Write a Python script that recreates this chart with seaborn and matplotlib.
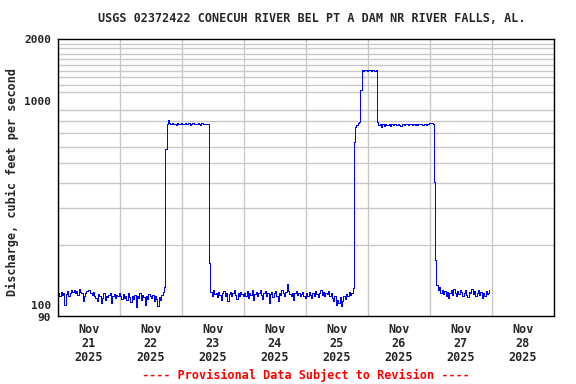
import matplotlib
matplotlib.use("Agg")
import matplotlib.pyplot as plt
import matplotlib.dates as mdates
import matplotlib.ticker as mticker
import matplotlib.transforms as mtransforms
import numpy as np
import pandas as pd
import seaborn as sns

# 30-minute discharge readings (cfs), one list per day
day_starts = ["2025-11-21", "2025-11-22", "2025-11-23", "2025-11-24",
              "2025-11-25", "2025-11-26", "2025-11-27"]

q_nov21 = [116, 112, 118, 114, 117, 102, 115, 119, 113, 117, 121, 118, 120, 116, 119, 114,
           122, 118, 116, 107, 113, 117, 119, 121, 120, 116, 114, 118, 112, 110, 106, 115,
           112, 104, 110, 116, 108, 113, 111, 114, 117, 104, 112, 115, 110, 114, 113, 116]
q_nov22 = [112, 109, 115, 110, 113, 108, 116, 111, 105, 113, 109, 114, 100, 112, 110, 116,
           108, 114, 111, 102, 113, 109, 115, 112, 110, 114, 107, 113, 109, 101, 111, 108,
           114, 118, 125, 584, 775, 808, 780, 772, 785, 768, 776, 762, 780, 774, 770, 778]
q_nov23 = [776, 770, 782, 768, 774, 779, 766, 772, 781, 770, 775, 768, 777, 773, 765, 779,
           771, 776, 769, 774, 770, 163, 118, 112, 120, 115, 117, 111, 118, 114, 108, 116,
           119, 113, 117, 106, 115, 118, 112, 116, 120, 114, 109, 117, 113, 118, 115, 112]
q_nov24 = [116, 113, 119, 110, 117, 114, 120, 108, 115, 118, 112, 117, 121, 114, 109, 116,
           119, 113, 117, 104, 115, 118, 111, 116, 119, 113, 106, 117, 114, 120, 116, 112,
           118, 129, 119, 115, 113, 117, 108, 116, 119, 114, 117, 112, 115, 118, 113, 110]
q_nov25 = [116, 112, 118, 114, 110, 117, 113, 119, 115, 111, 116, 120, 114, 118, 112, 117,
           115, 119, 113, 116, 110, 106, 112, 102, 108, 104, 111, 101, 107, 113, 109, 115,
           112, 118, 114, 117, 123, 633, 743, 762, 785, 790, 1134, 1415, 1405, 1420, 1410, 1400]
q_nov26 = [1412, 1418, 1390, 1408, 1415, 1402, 1410, 793, 762, 775, 750, 768, 758, 772, 765, 760,
           776, 755, 770, 763, 768, 774, 760, 771, 766, 759, 772, 768, 764, 775, 770, 762,
           769, 773, 761, 770, 767, 774, 765, 771, 768, 776, 763, 770, 772, 766, 774, 779]
q_nov27 = [778, 782, 774, 404, 168, 127, 120, 124, 117, 121, 115, 119, 113, 118, 110, 116,
           120, 114, 122, 117, 112, 119, 115, 121, 118, 113, 117, 120, 114, 111, 118, 116,
           122, 115, 119, 112, 117, 121, 114, 118, 110, 116, 113, 119, 115, 117, 120]

y_labels = [90, 100, 1000, 2000]
y_grid = list(range(100, 2000, 100))

days = [q_nov21, q_nov22, q_nov23, q_nov24, q_nov25, q_nov26, q_nov27]
frames = []
for start, vals in zip(day_starts, days):
    t = pd.Timestamp(start) + pd.to_timedelta(np.arange(len(vals)) * 30, unit="min")
    frames.append(pd.DataFrame({"time": t, "cfs": vals}))
df = pd.concat(frames, ignore_index=True)

sns.set_style("white")
plt.rcParams["font.family"] = ["DejaVu Sans Mono"]
plt.rcParams["font.weight"] = "bold"
fs = 8.5

fig = plt.figure(figsize=(5.76, 3.84), dpi=100)
ax = fig.add_axes([58 / 576, 1 - 316 / 384, 496 / 576, 277 / 384])

sns.lineplot(data=df, x="time", y="cfs", color="#0000ff", linewidth=0.72,
             drawstyle="steps-post", antialiased=False, ax=ax)

ax.set_yscale("log")
ax.set_ylim(90, 2000)
ax.set_xlim(pd.Timestamp("2025-11-21"), pd.Timestamp("2025-11-29"))

ax.yaxis.set_major_locator(mticker.FixedLocator(y_labels))
ax.yaxis.set_major_formatter(mticker.FixedFormatter([str(v) for v in y_labels]))
ax.yaxis.set_minor_locator(mticker.FixedLocator(y_grid))
ax.yaxis.set_minor_formatter(mticker.NullFormatter())

ax.xaxis.set_major_locator(mdates.DayLocator())
ax.xaxis.set_major_formatter(mticker.NullFormatter())
ax.xaxis.set_minor_locator(mdates.HourLocator(byhour=12))
ax.xaxis.set_minor_formatter(mdates.DateFormatter("%b\n%d\n%Y"))

ax.grid(False)
ax.yaxis.grid(True, which="minor", color="#c8c8c8", linewidth=1.0)
ax.xaxis.grid(True, which="major", color="#c8c8c8", linewidth=1.0)
ax.set_axisbelow(True)

ax.tick_params(axis="both", which="both", length=0)
ax.tick_params(axis="y", labelsize=8, pad=5)
ax.tick_params(axis="x", which="minor", labelsize=fs, pad=5)
for lab in ax.get_xticklabels(minor=True):
    lab.set_linespacing(1.1)
    lab.set_fontweight("bold")
for lab in ax.get_yticklabels():
    lab.set_fontweight("bold")
# 90 and 100 sit almost on top of each other; nudge them apart a little
fig.canvas.draw()
for lab in ax.get_yticklabels():
    if lab.get_text() == "90":
        lab.set_transform(lab.get_transform() + mtransforms.ScaledTranslation(0, -0.8 / 72, fig.dpi_scale_trans))
    elif lab.get_text() == "100":
        lab.set_transform(lab.get_transform() + mtransforms.ScaledTranslation(0, 0.8 / 72, fig.dpi_scale_trans))

for s in ax.spines.values():
    s.set_visible(True)
    s.set_color("black")
    s.set_linewidth(1.0)

ax.set_xlabel("")
ax.set_ylabel("")

fig.text(312 / 576, 1 - 19 / 384, "USGS 02372422 CONECUH RIVER BEL PT A DAM NR RIVER FALLS, AL.",
         ha="center", va="center", fontsize=fs, fontweight="bold")
fig.text(12 / 576, 1 - 182 / 384, "Discharge, cubic feet per second", rotation=90,
         ha="center", va="center", fontsize=fs, fontweight="bold")
fig.text(306 / 576, 1 - 375 / 384, "---- Provisional Data Subject to Revision ----",
         ha="center", va="center", fontsize=fs, fontweight="bold", color="red")

fig.savefig("out.png", dpi=100)
